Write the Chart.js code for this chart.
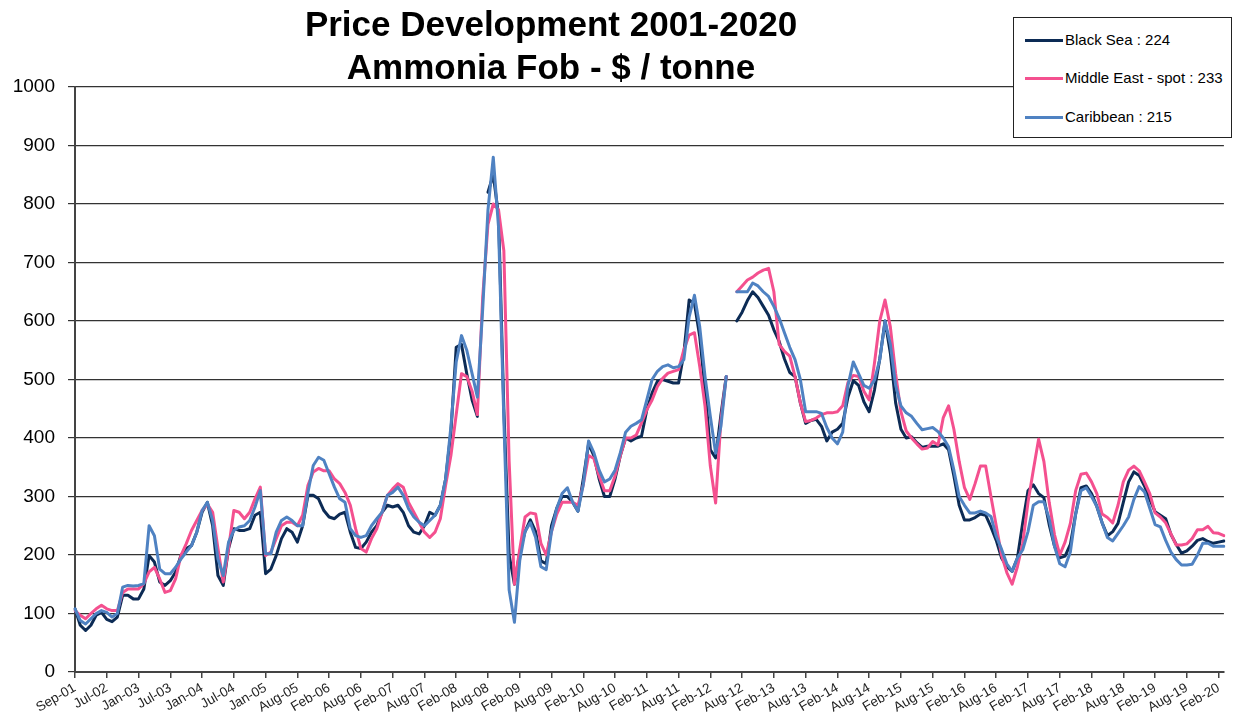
<!DOCTYPE html>
<html>
<head>
<meta charset="utf-8">
<script src="https://cdn.jsdelivr.net/npm/chart.js@4.4.1/dist/chart.umd.min.js"></script>
<style>
html,body{margin:0;padding:0;background:#fff;}
#wrap{position:relative;width:1234px;height:717px;overflow:hidden;font-family:"Liberation Sans",Arial,sans-serif;}
#c{position:absolute;left:0;top:0;}
.title{position:absolute;left:0;width:1102px;text-align:center;font-weight:bold;font-size:35px;line-height:35px;color:#000;white-space:nowrap;z-index:2;}
#legend{position:absolute;left:1013px;top:17px;width:217px;height:119px;border:1px solid #222;background:#fff;z-index:2;}
.item{position:absolute;left:0;height:20px;width:215px;}
.swatch{position:absolute;left:11px;top:8.5px;width:38px;height:3px;}
.lab{position:absolute;left:51px;top:0;font-size:15px;line-height:20px;white-space:nowrap;color:#000;}
</style>
</head>
<body>
<div id="wrap">
  <canvas id="c" width="1234" height="717"></canvas>
  <div class="title" style="top:6px">Price Development 2001-2020</div>
  <div class="title" style="top:49px">Ammonia Fob - $ / tonne</div>
  <div id="legend"></div>
</div>
<script>
// ---- data ----
const tickLabels = ["Sep-01","Jul-02","Jan-03","Jul-03","Jan-04","Jul-04","Jan-05","Aug-05","Feb-06","Aug-06",
  "Feb-07","Aug-07","Feb-08","Aug-08","Feb-09","Aug-09","Feb-10","Aug-10","Feb-11","Aug-11",
  "Feb-12","Aug-12","Feb-13","Aug-13","Feb-14","Aug-14","Feb-15","Aug-15","Feb-16","Aug-16",
  "Feb-17","Aug-17","Feb-18","Aug-18","Feb-19","Aug-19","Feb-20"];

const seriesNames = ["Black Sea", "Middle East - spot", "Caribbean"];
const legendValues = [224, 233, 215];

const blackSea = [
  108,80,71,80,97,102,90,86,94,131,
  131,125,125,142,199,188,154,148,156,171,
  199,211,216,239,273,290,250,165,148,211,
  245,242,242,245,268,273,168,176,199,228,
  245,239,222,250,302,302,296,276,265,262,
  270,273,239,213,211,222,239,250,273,285,
  282,285,273,250,239,236,250,273,268,285,
  330,410,555,560,510,465,437,null,820,850,
  780,450,200,150,205,240,260,240,190,185,
  250,280,300,300,290,275,330,390,370,330,
  300,300,330,370,400,395,400,403,448,477,
  497,500,497,494,494,545,636,630,573,482,
  380,366,440,505,null,600,615,635,650,640,
  625,610,585,565,535,512,505,460,425,430,
  432,420,395,410,415,425,470,498,490,462,
  445,482,535,600,545,460,415,400,402,392,
  384,386,386,386,390,380,335,285,260,260,
  264,270,268,248,225,195,180,172,195,255,
  310,320,305,298,252,215,195,198,218,270,
  315,318,305,283,255,233,240,254,290,325,
  342,336,318,295,274,268,262,235,218,203,
  207,215,225,228,223,220,222,224
];

const middleEast = [
  105,97,91,100,108,114,108,105,105,136,
  142,142,142,151,171,179,159,136,139,159,
  199,219,242,259,276,287,273,211,154,211,
  276,273,262,273,296,316,199,205,228,250,
  256,256,250,268,319,342,348,344,344,330,
  322,307,285,245,211,205,228,245,273,302,
  313,322,316,290,273,256,239,230,239,262,
  319,370,440,510,505,480,440,640,765,800,
  790,720,360,150,210,265,272,270,220,200,
  240,270,290,290,290,285,320,370,365,335,
  310,310,335,370,400,400,405,426,448,465,
  488,502,511,514,517,551,576,580,522,454,
  352,289,430,505,null,650,660,670,675,682,
  687,690,650,560,548,540,505,460,428,430,
  434,440,443,443,445,455,495,507,505,480,
  465,528,600,636,590,510,445,412,400,390,
  381,383,394,388,435,455,415,360,315,295,
  322,352,352,300,250,200,170,150,180,220,
  290,345,398,360,290,235,200,222,254,310,
  338,340,325,305,270,264,255,285,325,345,
  352,344,325,305,272,265,255,236,217,217,
  219,228,243,243,249,238,237,233
];

const caribbean = [
  108,88,82,91,100,105,102,94,100,145,
  148,147,148,151,250,233,176,168,168,179,
  193,205,216,239,276,290,259,193,165,222,
  242,248,250,259,282,310,202,202,239,259,
  265,259,250,250,307,353,367,362,339,316,
  296,290,245,233,230,233,250,262,273,302,
  307,316,302,279,265,256,250,259,268,285,
  330,420,530,575,550,510,470,620,790,880,
  760,430,140,85,190,240,255,230,180,175,
  240,280,305,315,290,275,320,395,375,345,
  325,330,345,375,410,420,425,431,465,500,
  514,522,525,520,522,534,607,644,590,505,
  437,374,420,505,null,650,650,650,665,660,
  650,642,625,605,580,555,534,500,445,445,
  445,442,418,400,390,410,490,530,510,490,
  485,499,534,600,560,490,455,443,437,425,
  414,416,418,411,400,385,345,300,285,272,
  272,275,272,266,232,210,185,172,195,209,
  240,285,291,291,262,215,185,180,205,270,
  310,315,300,283,255,230,224,237,250,265,
  295,317,308,280,252,248,225,205,192,183,
  183,184,200,220,220,215,215,215
];

// ---- styles ----
const colors = ["#0c2b55", "#f4508f", "#4f82c2"];
const TICK_EVERY = 6;

const labels = blackSea.map((_, i) => (i % TICK_EVERY === 0 && tickLabels[i / TICK_EVERY]) ? tickLabels[i / TICK_EVERY] : "");

// legend (HTML)
const legend = document.getElementById('legend');
const tops = [12.3, 50.3, 89.3];
seriesNames.forEach((n, k) => {
  const it = document.createElement('div');
  it.className = 'item';
  it.style.top = tops[k] + 'px';
  const sw = document.createElement('div');
  sw.className = 'swatch';
  sw.style.background = colors[k];
  const lb = document.createElement('div');
  lb.className = 'lab';
  lb.textContent = n + ' : ' + legendValues[k];
  it.appendChild(sw); it.appendChild(lb);
  legend.appendChild(it);
});

const FONT = "'Liberation Sans', Arial, sans-serif";
const seriesData = [blackSea, middleEast, caribbean];

new Chart(document.getElementById('c'), {
  type: 'line',
  data: {
    labels: labels,
    datasets: seriesData.map((d, k) => ({
      label: seriesNames[k],
      data: d,
      borderColor: colors[k],
      backgroundColor: colors[k],
      borderWidth: 3,
      pointRadius: 0,
      tension: 0,
      fill: false,
      spanGaps: false,
      borderJoinStyle: 'round',
      borderCapStyle: 'round',
      order: 3 - k
    }))
  },
  options: {
    responsive: false,
    animation: false,
    devicePixelRatio: 1,
    layout: { padding: { top: 87, right: 2, left: 0, bottom: 0 } },
    plugins: { legend: { display: false }, title: { display: false }, tooltip: { enabled: false } },
    scales: {
      x: {
        type: 'category',
        offset: false,
        grid: {
          display: true,
          drawOnChartArea: false,
          drawTicks: true,
          tickLength: 6,
          color: (c) => (c.index % TICK_EVERY === 0) ? '#444' : 'rgba(0,0,0,0)',
          lineWidth: 1.5
        },
        border: { display: true, color: '#444', width: 2 },
        ticks: {
          autoSkip: false,
          maxRotation: 30,
          minRotation: 30,
          padding: 2,
          color: '#222',
          font: { family: FONT, size: 13.5 }
        },
        afterFit: (s) => { s.height = 45; }
      },
      y: {
        min: 0,
        max: 1000,
        ticks: {
          stepSize: 100, padding: 13, color: '#000',
          font: { family: FONT, size: 19 },
          callback: (v) => String(v)
        },
        grid: { color: '#333', lineWidth: 1.2, tickLength: 7, drawTicks: true },
        border: { display: true, color: '#444', width: 2 },
        afterFit: (s) => { s.width = 75; }
      }
    }
  }
});
</script>
</body>
</html>
